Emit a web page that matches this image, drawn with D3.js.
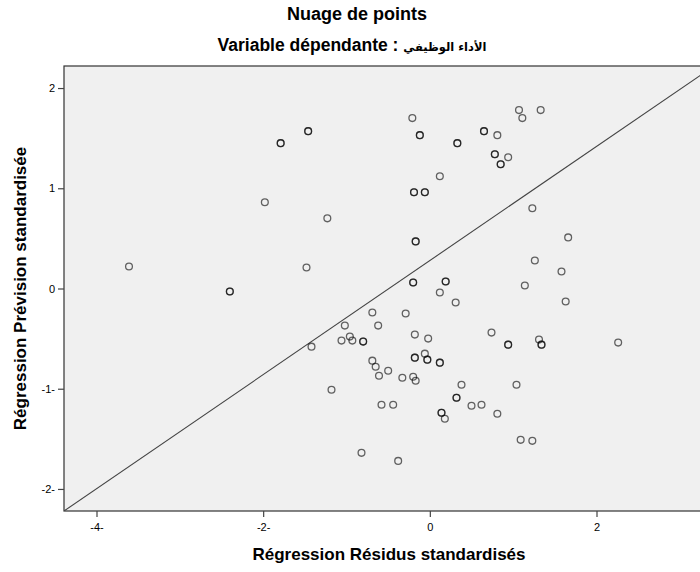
<!DOCTYPE html>
<html>
<head>
<meta charset="utf-8">
<script src="https://cdn.jsdelivr.net/npm/d3@7"></script>
<style>
  html, body { margin: 0; padding: 0; background: #fff; }
  svg { display: block; }
  text { font-family: "Liberation Sans", Arial, "DejaVu Sans", sans-serif; }
</style>
</head>
<body>
<svg id="chart" width="700" height="572"></svg>
<script>
// ---- Data ----
const chartTitle = "Nuage de points";
const subtitleLatin = "Variable dépendante : ";
const subtitleArabic = "الأداء الوظيفي";
const xAxisTitle = "Régression Résidus standardisés";
const yAxisTitle = "Régression Prévision standardisée";

// standardized residuals (x) and standardized predicted values (y); duplicates repeated
const residuals = [
  -3.61, -2.40, -2.40, -1.98, -1.79, -1.79, -1.46, -1.46, -1.23, -1.48,
  -1.42, -1.18, -0.82, -0.38, -0.69, -0.62, -1.02, -0.96, -1.06, -0.93,
  -0.80, -0.80, -0.69, -0.65, -0.61, -0.50, -0.58, -0.44, -0.33, -0.20,
  -0.17, -0.18, -0.18, -0.06, -0.03, -0.03, 0.12, 0.12, -0.18, -0.02,
  -0.29, 0.12, 0.31, -0.20, -0.20, 0.19, 0.19, 1.14, 1.63, 1.58,
  1.26, 1.66, 1.23, -0.17, -0.17, -0.19, -0.19, -0.06, -0.06, 0.12,
  -0.21, -0.12, -0.12, 0.33, 0.33, 0.65, 0.65, 0.81, 1.07, 1.11,
  1.33, 0.78, 0.78, 0.94, 0.85, 0.85, 0.74, 0.94, 0.94, 1.31,
  1.34, 1.34, 2.26, 0.38, 1.04, 0.32, 0.32, 0.50, 0.62, 0.81,
  0.14, 0.14, 0.18, 1.09, 1.23
];
const predicted = [
  0.22, -0.03, -0.03, 0.86, 1.45, 1.45, 1.57, 1.57, 0.70, 0.21,
  -0.58, -1.01, -1.64, -1.72, -0.24, -0.37, -0.37, -0.48, -0.52, -0.52,
  -0.53, -0.53, -0.72, -0.78, -0.87, -0.82, -1.16, -1.16, -0.89, -0.88,
  -0.92, -0.69, -0.69, -0.65, -0.71, -0.71, -0.74, -0.74, -0.46, -0.50,
  -0.25, -0.04, -0.14, 0.06, 0.06, 0.07, 0.07, 0.03, -0.13, 0.17,
  0.28, 0.51, 0.80, 0.47, 0.47, 0.96, 0.96, 0.96, 0.96, 1.12,
  1.70, 1.53, 1.53, 1.45, 1.45, 1.57, 1.57, 1.53, 1.78, 1.70,
  1.78, 1.34, 1.34, 1.31, 1.24, 1.24, -0.44, -0.56, -0.56, -0.51,
  -0.56, -0.56, -0.54, -0.96, -0.96, -1.09, -1.09, -1.17, -1.16, -1.25,
  -1.24, -1.24, -1.30, -1.51, -1.52
];

const xTickValues = [-4, -2, 0, 2];
const xTickLabels = ["-4-", "-2-", "0", "2"];
const yTickValues = [-2, -1, 0, 1, 2];
const yTickLabels = ["-2-", "-1-", "0", "1", "2"];

const xDomain = [-4.39, 3.41];
const yDomain = [-2.22, 2.22];
// reference line endpoints (data units)
const refLineX = [-4.39, 3.41];
const refLineY = [-2.22, 2.22];

// ---- Layout ----
const svg = d3.select("#chart");
const plot = { left: 64, top: 66, right: 714, bottom: 511 };

const x = d3.scaleLinear().domain(xDomain).range([plot.left, plot.right]);
const y = d3.scaleLinear().domain(yDomain).range([plot.bottom, plot.top]);

svg.append("rect").attr("width", 700).attr("height", 572).attr("fill", "#fff");

// titles
svg.append("text")
  .attr("x", 357).attr("y", 20)
  .attr("text-anchor", "middle")
  .attr("font-size", 18).attr("font-weight", "bold").attr("fill", "#000")
  .text(chartTitle);
const sub = svg.append("text")
  .attr("x", 352).attr("y", 51)
  .attr("text-anchor", "middle")
  .attr("font-weight", "bold").attr("fill", "#000");
sub.append("tspan").attr("font-size", 17.5).text(subtitleLatin);
sub.append("tspan").attr("font-size", 11.5)
  .attr("font-family", "'DejaVu Sans', sans-serif")
  .text(subtitleArabic);

// plot background
svg.append("rect")
  .attr("x", plot.left).attr("y", plot.top)
  .attr("width", plot.right - plot.left).attr("height", plot.bottom - plot.top)
  .attr("fill", "#f0f0f0")
  .attr("stroke", "#333").attr("stroke-width", 1.2);

// clip
svg.append("clipPath").attr("id", "clip")
  .append("rect")
  .attr("x", plot.left).attr("y", plot.top)
  .attr("width", plot.right - plot.left).attr("height", plot.bottom - plot.top);

// reference line
svg.append("line")
  .attr("clip-path", "url(#clip)")
  .attr("x1", x(refLineX[0])).attr("y1", y(refLineY[0]))
  .attr("x2", x(refLineX[1])).attr("y2", y(refLineY[1]))
  .attr("stroke", "#444").attr("stroke-width", 1.1);

// points
const pts = residuals.map((r, i) => ({ r, p: predicted[i] }));
svg.append("g").attr("clip-path", "url(#clip)")
  .selectAll("circle").data(pts).enter().append("circle")
  .attr("cx", d => x(d.r)).attr("cy", d => y(d.p))
  .attr("r", 3.4)
  .attr("fill", "none")
  .attr("stroke", "#000").attr("stroke-opacity", 0.6)
  .attr("stroke-width", 1.3);

// axes
const xAxis = d3.axisBottom(x)
  .tickValues(xTickValues)
  .tickSize(6).tickSizeOuter(0).tickPadding(6)
  .tickFormat((d, i) => xTickLabels[i]);
const gx = svg.append("g").attr("transform", `translate(0,${plot.bottom})`).call(xAxis);
gx.select(".domain").remove();
gx.selectAll(".tick line").attr("stroke", "#444").attr("stroke-width", 1.2);
gx.selectAll(".tick text").attr("font-size", 11).attr("fill", "#000")
  .attr("font-family", "'Liberation Sans', Arial, sans-serif");

const yAxis = d3.axisLeft(y)
  .tickValues(yTickValues)
  .tickSize(6).tickSizeOuter(0).tickPadding(3)
  .tickFormat((d, i) => yTickLabels[i]);
const gy = svg.append("g").attr("transform", `translate(${plot.left},0)`).call(yAxis);
gy.select(".domain").remove();
gy.selectAll(".tick line").attr("stroke", "#444").attr("stroke-width", 1.2);
gy.selectAll(".tick text").attr("font-size", 11).attr("fill", "#000")
  .attr("font-family", "'Liberation Sans', Arial, sans-serif");

// axis titles
svg.append("text")
  .attr("x", (plot.left + plot.right) / 2).attr("y", 560)
  .attr("text-anchor", "middle")
  .attr("font-size", 17).attr("font-weight", "bold").attr("fill", "#000")
  .text(xAxisTitle);
svg.append("text")
  .attr("transform", `translate(26,${(plot.top + plot.bottom) / 2}) rotate(-90)`)
  .attr("text-anchor", "middle")
  .attr("font-size", 17).attr("font-weight", "bold").attr("fill", "#000")
  .text(yAxisTitle);
</script>
</body>
</html>
